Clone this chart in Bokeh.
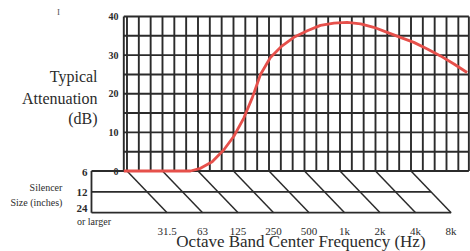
from bokeh.plotting import figure
from bokeh.models import Range1d
from bokeh.embed import file_html
from bokeh.resources import INLINE
from bokeh.core.properties import value

# ---------------- data ----------------
freq_labels = ["31.5", "63", "125", "250", "500", "1k", "2k", "4k", "8k"]   # octave bands (6" silencer row at 0 dB line)
db_ticks = [0, 10, 20, 30, 40]
silencer_sizes = ["6", "12", "24"]
# typical attenuation curve: x in octaves above 31.5 Hz, y in dB
curve_oct = [-0.09, 1.79, 2.07, 2.40, 2.73, 3.01, 3.29, 3.53, 3.76, 4.04, 4.37, 4.70,
             5.08, 5.45, 5.83, 6.20, 6.58, 6.95, 7.33, 7.70, 8.08, 8.46, 8.83, 9.21, 9.58]
curve_db = [0.0, 0.0, 0.7, 2.4, 5.5, 9.0, 13.7, 19.0, 25.0, 29.4, 32.4, 34.6,
            36.3, 37.7, 38.3, 38.5, 38.1, 37.2, 35.9, 34.6, 33.3, 31.6, 29.8, 27.7, 25.5]

# ---------------- layout constants ----------------
X_LEFT, X_RIGHT = -0.09, 9.63      # plot frame in octaves
Y_TOP = 40
GRID_STEP_X = 1 / 3                # third-octave grid
GRID_STEP_Y = 5
ROW = 5.4                          # vertical step between silencer rows
SHIFT = 1.13                       # horizontal shift of the band diagonals across the silencer box
BOX_LEFT = -1.0
FONT = value("Liberation Serif")
INK = "#2b2b2b"

p = figure(width=470, height=251, output_backend="svg", toolbar_location=None,
           x_range=Range1d(-3.563, 9.676), y_range=Range1d(-20.84, 44.14),
           x_axis_location=None, y_axis_location=None, min_border=0)
p.grid.visible = False
p.outline_line_color = None
p.background_fill_color = "white"
p.border_fill_color = "white"

# grid
n_v = int(round((X_RIGHT - 0.4) / GRID_STEP_X)) + 1
vx = [k * GRID_STEP_X for k in range(n_v)] + [X_LEFT, X_RIGHT]
p.segment(x0=vx, y0=[0] * len(vx), x1=vx, y1=[Y_TOP] * len(vx), line_color=INK, line_width=1.9)
hy = list(range(GRID_STEP_Y, Y_TOP + 1, GRID_STEP_Y))
p.segment(x0=[X_LEFT] * len(hy), y0=hy, x1=[X_RIGHT] * len(hy), y1=hy, line_color=INK, line_width=1.9)

# silencer box
rows_y = [-i * ROW for i in range(len(silencer_sizes))]
last = len(freq_labels) - 1
p.segment(x0=[BOX_LEFT, BOX_LEFT, BOX_LEFT], y0=rows_y,
          x1=[X_RIGHT, last + SHIFT / 2, last + SHIFT], y1=rows_y,
          line_color=INK, line_width=1.8)
p.segment(x0=[BOX_LEFT], y0=[0], x1=[BOX_LEFT], y1=[rows_y[-1]], line_color=INK, line_width=1.8)
bx = list(range(len(freq_labels)))
p.segment(x0=bx, y0=[0] * len(bx), x1=[b + SHIFT for b in bx], y1=[rows_y[-1]] * len(bx),
          line_color=INK, line_width=1.5)

# curve
p.line(curve_oct, curve_db, line_color="#e6504b", line_width=2.8)

# dB tick labels
p.text(x=[-0.24] * len(db_ticks), y=db_ticks, text=[str(t) for t in db_ticks],
       text_font=FONT, text_font_size="10px", text_align="right", text_baseline="middle",
       text_color=INK, text_font_style="bold")

# frequency labels
p.text(x=[b + SHIFT for b in bx], y=[-15.66] * len(bx), text=freq_labels,
       text_font=FONT, text_font_size="11px", text_align="center", text_baseline="middle",
       text_color=INK)

# silencer size labels
p.text(x=[-1.11] * 3, y=[-0.39, -5.57, -9.71], text=silencer_sizes,
       text_font=FONT, text_font_size="11px", text_align="right", text_baseline="middle",
       text_color=INK, text_font_style="bold")
p.text(x=[-0.93], y=[-13.07], text=["or larger"],
       text_font=FONT, text_font_size="10px", text_align="center", text_baseline="middle",
       text_color=INK)
p.text(x=[-1.82, -1.82], y=[-4.27, -8.16], text=["Silencer", "Size (inches)"],
       text_font=FONT, text_font_size="10px", text_align="right", text_baseline="middle",
       text_color=INK)

# axis titles
p.text(x=[-0.83] * 3, y=[24.47, 18.64, 13.59], text=["Typical", "Attenuation", "(dB)"],
       text_font=FONT, text_font_size="16px", text_align="right", text_baseline="middle",
       text_color=INK)
p.text(x=[4.90], y=[-18.3], text=["Octave Band Center Frequency (Hz)"],
       text_font=FONT, text_font_size="17px", text_align="center", text_baseline="middle",
       text_color=INK)

# small stray mark at top left
p.text(x=[-1.93], y=[41.04], text=["I"], text_font=FONT, text_font_size="9px",
       text_align="center", text_baseline="middle", text_color="#555555")

open("out.html", "w").write(file_html(p, INLINE))
